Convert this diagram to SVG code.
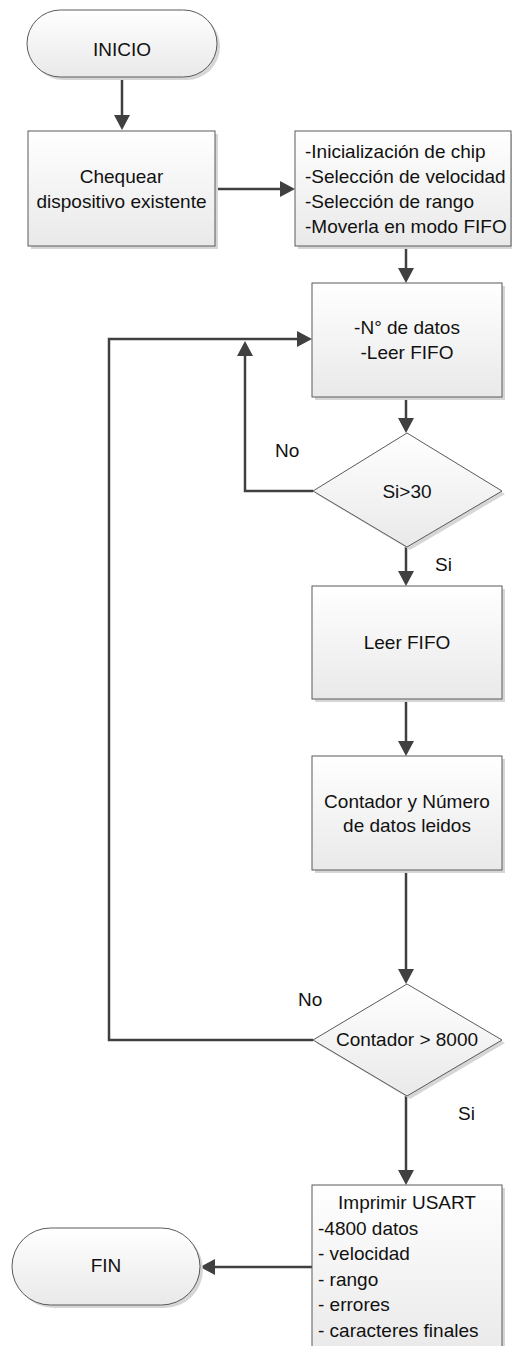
<svg xmlns="http://www.w3.org/2000/svg" width="512" height="1346" viewBox="0 0 512 1346">
<defs>
<linearGradient id="g" x1="0" y1="0" x2="0" y2="1">
<stop offset="0" stop-color="#ffffff"/>
<stop offset="1" stop-color="#e9e9e9"/>
</linearGradient>
<marker id="ah" markerUnits="userSpaceOnUse" markerWidth="16" markerHeight="16" refX="7" refY="8" orient="auto">
<path d="M0,0 L15,8 L0,16 z" fill="#404040"/>
</marker>
</defs>
<style>
.shape{fill:url(#g);stroke:#5a5a5a;stroke-width:1}
.shadow{fill:#d6d6d6;stroke:none}
.conn{fill:none;stroke:#404040;stroke-width:2.5;marker-end:url(#ah)}
.line{fill:none;stroke:#404040;stroke-width:2.5}
text{font-family:"Liberation Sans",Arial,sans-serif;font-size:19px;fill:#111}
.c{text-anchor:middle}
</style>
<rect width="512" height="1346" fill="#ffffff"/>

<g id="connectors">
<line class="conn" x1="122" y1="77" x2="122" y2="122"/>
<line class="conn" x1="215" y1="189" x2="287" y2="189"/>
<line class="conn" x1="406" y1="246" x2="406" y2="275"/>
<line class="conn" x1="406" y1="397" x2="406" y2="425"/>
<polyline class="conn" points="313,491 245,491 245,349"/>
<line class="conn" x1="406" y1="547" x2="406" y2="578"/>
<line class="conn" x1="406" y1="699" x2="406" y2="748"/>
<line class="conn" x1="406" y1="870" x2="406" y2="976"/>
<polyline class="conn" points="313,1040 109,1040 109,339 304,339"/>
<line class="conn" x1="406" y1="1096" x2="406" y2="1177"/>
<line class="conn" x1="312" y1="1267" x2="208" y2="1267"/>
<text x="275" y="457">No</text>
<text x="435" y="571">Si</text>
<text x="298" y="1006">No</text>
<text x="458" y="1120">Si</text>
</g>

<g id="inicio">
<rect class="shadow" x="30" y="13" width="190" height="67" rx="33.5"/>
<rect class="shape" x="27" y="10" width="190" height="67" rx="33.5"/>
<text class="c" x="122" y="56">INICIO</text>
</g>

<g id="chequear">
<rect class="shadow" x="31" y="134" width="187" height="115"/>
<rect class="shape" x="28" y="131" width="187" height="115"/>
<text class="c" x="121.5" y="183">Chequear</text>
<text class="c" x="121.5" y="208">dispositivo existente</text>
</g>

<g id="init">
<rect class="shadow" x="298" y="134" width="216" height="115"/>
<rect class="shape" x="295" y="131" width="216" height="115"/>
<text x="305" y="158">-Inicialización de chip</text>
<text x="305" y="183">-Selección de velocidad</text>
<text x="305" y="208">-Selección de rango</text>
<text x="305" y="233">-Moverla en modo FIFO</text>
</g>

<g id="ndatos">
<rect class="shadow" x="315" y="286" width="190" height="114"/>
<rect class="shape" x="312" y="283" width="190" height="114"/>
<text class="c" x="407" y="334">-N° de datos</text>
<text class="c" x="407" y="359">-Leer FIFO</text>
</g>

<g id="dec30">
<polygon class="shadow" points="410,436 505,494 410,550 316,494"/>
<polygon class="shape" points="407,433 502,491 407,547 313,491"/>
<text class="c" x="407" y="498">Si&gt;30</text>
</g>

<g id="leerfifo">
<rect class="shadow" x="315" y="589" width="190" height="113"/>
<rect class="shape" x="312" y="586" width="190" height="113"/>
<text class="c" x="407" y="649">Leer FIFO</text>
</g>

<g id="contador">
<rect class="shadow" x="315" y="759" width="190" height="114"/>
<rect class="shape" x="312" y="756" width="190" height="114"/>
<text class="c" x="407" y="808">Contador y Número</text>
<text class="c" x="407" y="832">de datos leidos</text>
</g>

<g id="dec8000">
<polygon class="shadow" points="410,987 505,1043 410,1099 316,1043"/>
<polygon class="shape" points="407,984 502,1040 407,1096 313,1040"/>
<text class="c" x="407" y="1046">Contador &gt; 8000</text>
</g>

<g id="imprimir">
<rect class="shadow" x="315" y="1188" width="190" height="170"/>
<rect class="shape" x="312" y="1185" width="190" height="170"/>
<text class="c" x="407" y="1209">Imprimir USART</text>
<text x="318" y="1235">-4800 datos</text>
<text x="318" y="1260">- velocidad</text>
<text x="318" y="1286">- rango</text>
<text x="318" y="1311">- errores</text>
<text x="318" y="1337">- caracteres finales</text>
</g>

<g id="fin">
<rect class="shadow" x="15" y="1231" width="188" height="77" rx="38.5"/>
<rect class="shape" x="12" y="1228" width="188" height="77" rx="38.5"/>
<text class="c" x="106" y="1272">FIN</text>
</g>
</svg>
